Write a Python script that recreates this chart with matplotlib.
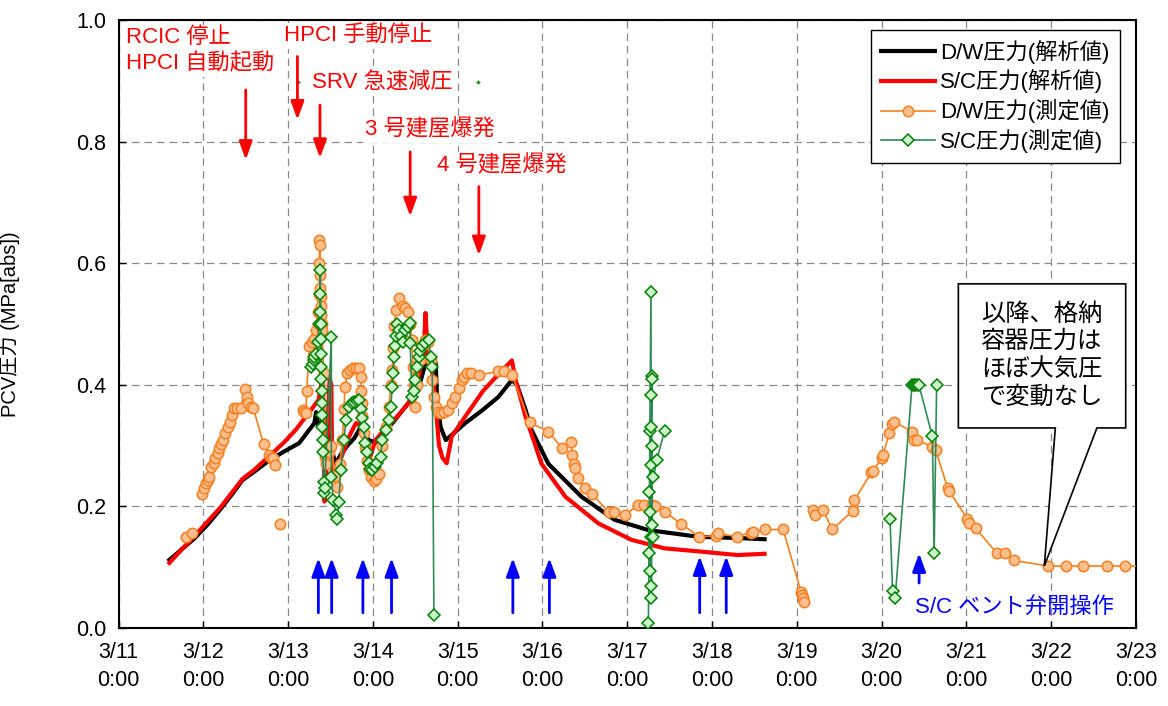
import numpy as np
import matplotlib
matplotlib.use("Agg")
import matplotlib.pyplot as plt
from matplotlib.patches import Polygon

plt.rcParams['font.family'] = ['Liberation Sans', 'Noto Sans CJK JP', 'DejaVu Sans']

nan = np.nan

# x in days from 3/11 0:00
day_ticks = list(range(13))
day_labels = ['3/11', '3/12', '3/13', '3/14', '3/15', '3/16', '3/17',
              '3/18', '3/19', '3/20', '3/21', '3/22', '3/23']

# D/W pressure (analysis)
dw_calc_t = [0.60, 0.75, 0.90, 1.05, 1.20, 1.35, 1.46, 1.60, 1.78, 1.95, 2.13,
             2.25, 2.31, 2.33, 2.36, 2.40, 2.45, 2.50, 2.56, 2.62, 2.70, 2.78,
             2.86, 2.95, 3.03, 3.10, 3.23, 3.42, 3.55, 3.62, 3.74, 3.76, 3.80,
             3.86, 3.91, 4.09, 4.29, 4.48, 4.64, 4.70, 4.80, 4.87, 5.07, 5.46,
             5.85, 6.25, 6.84, 7.30, 7.62]
dw_calc_p = [0.112, 0.130, 0.148, 0.170, 0.195, 0.222, 0.243, 0.257, 0.276,
             0.290, 0.304, 0.326, 0.337, 0.355, 0.330, 0.340, 0.330, 0.300,
             0.270, 0.285, 0.300, 0.312, 0.331, 0.309, 0.305, 0.320, 0.337,
             0.370, 0.400, 0.435, 0.436, 0.370, 0.330, 0.309, 0.315, 0.337,
             0.358, 0.380, 0.408, 0.400, 0.359, 0.326, 0.270, 0.216, 0.178,
             0.161, 0.150, 0.148, 0.146]

# S/C pressure (analysis)
sc_calc_t = [0.60, 0.75, 0.90, 1.05, 1.20, 1.35, 1.46, 1.60, 1.78, 1.95, 2.09,
             2.25, 2.33, 2.36, 2.39, 2.41, 2.42, 2.43, 2.45, 2.47, 2.49, 2.51,
             2.52, 2.55, 2.60, 2.66, 2.72, 2.80, 2.85, 2.91, 2.97, 3.03, 3.10,
             3.20, 3.30, 3.42, 3.50, 3.55, 3.60, 3.62, 3.64, 3.66, 3.68, 3.72,
             3.75, 3.78, 3.82, 3.87, 3.93, 4.09, 4.30, 4.50, 4.64, 4.68, 4.80,
             4.99, 5.27, 5.66, 6.05, 6.44, 6.84, 7.30, 7.62]
sc_calc_p = [0.107, 0.130, 0.152, 0.175, 0.198, 0.225, 0.245, 0.260, 0.283,
             0.305, 0.326, 0.355, 0.370, 0.375, 0.400, 0.425, 0.300, 0.208,
             0.250, 0.350, 0.410, 0.400, 0.260, 0.245, 0.270, 0.293, 0.315,
             0.337, 0.335, 0.304, 0.282, 0.309, 0.320, 0.335, 0.350, 0.370,
             0.390, 0.420, 0.450, 0.518, 0.470, 0.430, 0.440, 0.400, 0.350,
             0.300, 0.280, 0.271, 0.315, 0.348, 0.390, 0.420, 0.440, 0.410,
             0.348, 0.270, 0.216, 0.172, 0.145, 0.131, 0.126, 0.120, 0.122]

# D/W pressure (measured)
dw_meas_t = [0.80, 0.87, nan, 0.98, 1.01, 1.03, 1.05, 1.07, 1.09, 1.12, 1.14,
             1.17, 1.19, 1.21, 1.23, 1.26, 1.29, 1.31, 1.34, 1.36, 1.40, 1.44,
             1.49, 1.51, 1.53, 1.56, 1.59, 1.71, 1.78, 1.80, 1.82, 1.84, nan,
             1.91, nan,
             2.17, 2.19, 2.21, 2.22, 2.25, 2.28, 2.31, 2.33, 2.35, 2.36, 2.365,
             2.37, 2.37, 2.375, 2.38, 2.38, 2.385, 2.39, 2.39, 2.395, 2.40,
             2.42, 2.44, 2.45, 2.48, 2.51, 2.55, 2.58, 2.61, 2.64, 2.66, 2.67,
             2.70, 2.73, 2.76, 2.80, 2.84, 2.86, 2.86, 2.87, 2.87, 2.89, 2.91,
             2.93, 2.95, 2.98, 3.01, 3.04, 3.07, 3.11, 3.15, 3.19, 3.21, 3.23,
             3.24, 3.25, 3.27, 3.31, 3.35, 3.38, 3.42, 3.44, 3.46, 3.47, 3.48,
             3.50, 3.52, 3.55, 3.58, 3.62, 3.65, 3.68, 3.70, 3.72, 3.74, 3.77,
             3.80, 3.84, 3.89, 3.93, 3.97, 4.01, 4.05, 4.08, 4.11, 4.16, 4.25,
             4.48, 4.55, 4.64, 4.85, 5.07, 5.23, 5.34, 5.35, 5.37, 5.38, 5.42,
             5.50, 5.58, 5.78, 5.84, 5.97, 6.13, 6.20, 6.29, 6.33, 6.44, 6.64,
             6.85, 7.05, 7.07, 7.29, 7.46, 7.48, 7.62, 7.84, 8.05, 8.06, 8.07,
             8.08, nan,
             8.19, 8.22, 8.31, 8.42, 8.66, 8.68, 8.88, 8.90, 9.00, 9.02, 9.09,
             9.12, 9.15, 9.36, 9.38, 9.42, 9.60, 9.64, 9.78, 9.80, 10.01, 10.03,
             10.11, 10.36, 10.46, 10.56, 10.96, 11.18, 11.38, 11.66, 11.87, 12.2]
dw_meas_p = [0.150, 0.156, nan, 0.221, 0.230, 0.238, 0.244, 0.249, 0.264,
             0.272, 0.279, 0.287, 0.296, 0.303, 0.309, 0.320, 0.331, 0.339,
             0.350, 0.361, 0.362, 0.361, 0.393, 0.380, 0.370, 0.363, 0.361,
             0.303, 0.285, 0.280, 0.279, 0.268, nan,
             0.171, nan,
             0.359, 0.356, 0.353, 0.390, 0.463, 0.470, 0.475, 0.490, 0.520,
             0.500, 0.550, 0.600, 0.638, 0.630, 0.580, 0.560, 0.545, 0.530,
             0.515, 0.500, 0.490, 0.420, 0.282, 0.270, 0.290, 0.300, 0.250,
             0.232, 0.270, 0.309, 0.360, 0.397, 0.419, 0.425, 0.427, 0.428,
             0.427, 0.413, 0.390, 0.370, 0.348, 0.320, 0.298, 0.275, 0.260,
             0.248, 0.241, 0.245, 0.254, 0.300, 0.331, 0.364, 0.400, 0.424,
             0.460, 0.496, 0.523, 0.542, 0.530, 0.526, 0.520, 0.500, 0.474,
             0.430, 0.400, 0.364, 0.400, 0.440, 0.463, 0.474, 0.470, 0.440,
             0.408, 0.380, 0.364, 0.355, 0.353, 0.355, 0.359, 0.370, 0.380,
             0.395, 0.408, 0.413, 0.419, 0.420, 0.416, 0.422, 0.423, 0.416,
             0.338, 0.323, 0.296, 0.306, 0.285, 0.270, 0.263, 0.246, 0.230,
             0.221, 0.191, 0.190, 0.186, 0.202, 0.203, 0.202, 0.200, 0.191,
             0.171, 0.150, 0.152, 0.156, 0.150, 0.157, 0.158, 0.162, 0.162,
             0.060, 0.055, 0.050, 0.043, nan,
             0.194, 0.186, 0.194, 0.162, 0.193, 0.210, 0.256, 0.258, 0.279,
             0.285, 0.321, 0.336, 0.339, 0.323, 0.309, 0.309, 0.298, 0.292,
             0.230, 0.225, 0.180, 0.172, 0.164, 0.123, 0.123, 0.111, 0.102,
             0.102, 0.102, 0.102, 0.102, 0.102]

# S/C pressure (measured)
sc_meas_t = [2.27, 2.29, 2.30, 2.31, 2.33, 2.35, 2.37, 2.38, 2.38, 2.38, 2.385,
             2.385, 2.39, 2.39, 2.39, 2.395, 2.40, 2.40, 2.40, 2.41, 2.41, 2.42,
             2.42, 2.43, 2.51, 2.51, 2.53, 2.57, 2.58, 2.60, 2.62, 2.66, 2.68,
             2.72, 2.75, 2.78, 2.81, 2.84, 2.86, 2.87, 2.89, 2.91, 2.93, 2.95,
             2.97, 2.99, 3.02, 3.05, 3.09, 3.11, 3.15, 3.19, 3.21, 3.23, 3.24,
             3.25, 3.26, 3.27, 3.28, 3.31, 3.33, 3.35, 3.38, 3.41, 3.44, 3.44,
             3.46, 3.48, 3.50, 3.52, 3.54, 3.56, 3.58, 3.62, 3.66, 3.68, 3.70,
             3.72, nan,
             6.25, 6.28, 6.285, 6.29, 6.26, 6.29, 6.27, 6.28, 6.28, 6.27, 6.28,
             6.29, 6.27, 6.28, 6.29, 6.28, 6.30, 6.26, 6.31, 6.35, 6.44, nan,
             9.10, 9.13, 9.16, 9.36, 9.38, 9.40, 9.42, 9.44, 9.60, 9.62, 9.65]
sc_meas_p = [0.430, 0.435, 0.440, 0.445, 0.450, 0.470, 0.500, 0.520, 0.589,
             0.550, 0.500, 0.475, 0.450, 0.430, 0.410, 0.390, 0.370, 0.350,
             0.330, 0.310, 0.290, 0.240, 0.222, 0.230, 0.478, 0.249, 0.210,
             0.186, 0.180, 0.208, 0.260, 0.309, 0.342, 0.364, 0.370, 0.372,
             0.374, 0.375, 0.360, 0.345, 0.331, 0.304, 0.290, 0.271, 0.262,
             0.260, 0.265, 0.271, 0.282, 0.309, 0.326, 0.342, 0.364, 0.397,
             0.420, 0.446, 0.464, 0.480, 0.500, 0.490, 0.480, 0.470, 0.490,
             0.495, 0.501, 0.468, 0.380, 0.390, 0.408, 0.430, 0.446, 0.455,
             0.463, 0.468, 0.474, 0.446, 0.430, 0.021, nan,
             0.009, 0.552, 0.069, 0.414, 0.124, 0.410, 0.094, 0.384, 0.049,
             0.324, 0.150, 0.300, 0.190, 0.330, 0.169, 0.268, 0.149, 0.224,
             0.248, 0.277, 0.324, nan,
             0.179, 0.061, 0.049, 0.400, 0.400, 0.400, 0.400, 0.400, 0.315,
             0.124, 0.400]

# stray S/C readings near 0.9
sc_stray_t = [2.12, 4.24]
sc_stray_p = [0.898, 0.898]

# events (red): label, label x, label y, arrow x, arrow top, arrow tip
event_labels = ['RCIC 停止\nHPCI 自動起動', 'HPCI 手動停止', 'SRV 急速減圧',
                '3 号建屋爆発', '4 号建屋爆発']
event_text_x = [0.09, 1.95, 2.285, 2.91, 3.755]
event_text_y = [0.949, 0.974, 0.897, 0.819, 0.760]
event_arrow_x = [1.50, 2.11, 2.376, 3.44, 4.25]
event_arrow_top = [0.885, 0.940, 0.860, 0.783, 0.726]
event_arrow_tip = [0.770, 0.836, 0.773, 0.677, 0.613]

# S/C vent valve operations (blue)
vent_x = [2.357, 2.514, 2.882, 3.22, 4.651, 5.082, 6.855, 7.168, 9.443]
vent_bottom = [0.025, 0.025, 0.025, 0.025, 0.025, 0.025, 0.025, 0.025, 0.074]
vent_tip = [0.115, 0.115, 0.115, 0.115, 0.115, 0.115, 0.118, 0.118, 0.123]

fig = plt.figure(figsize=(11.68, 7.06), dpi=100)
ax = fig.add_axes([0.1015, 0.1105, 0.871, 0.8612])

ax.plot(dw_calc_t, dw_calc_p, color='black', lw=3, label='D/W圧力(解析値)', zorder=2)
ax.plot(sc_calc_t, sc_calc_p, color='#ff0000', lw=3, label='S/C圧力(解析値)', zorder=2.1)
ax.plot(dw_meas_t, dw_meas_p, color='#f77f1e', lw=1.2, marker='o', ms=7.5,
        mfc='#fdbf8e', mec='#f77f1e', mew=1.1, label='D/W圧力(測定値)', zorder=3)
ax.plot(sc_meas_t, sc_meas_p, color='#2e8b57', lw=1.2, marker='D', ms=6.5,
        mfc='#ccf5cc', mec='#008000', mew=1.1, label='S/C圧力(測定値)', zorder=3.1)
ax.plot(sc_stray_t, sc_stray_p, ls='none', marker='+', ms=3, color='#008000', zorder=3)

ax.set_xlim(0, 12)
ax.set_ylim(0, 1.0)
ax.set_xticks(day_ticks)
ax.set_xticklabels([d + '\n0:00' for d in day_labels], linespacing=1.45)
ax.set_yticks([0, 0.2, 0.4, 0.6, 0.8, 1.0])
ax.set_yticklabels(['0.0', '0.2', '0.4', '0.6', '0.8', '1.0'])
ax.tick_params(axis='both', direction='in', length=5, labelsize=15.5, width=1)
ax.tick_params(axis='x', pad=10)
ax.tick_params(axis='y', pad=9)
ax.grid(True, color='#888888', lw=0.9, ls=(0, (6, 4)))
ax.set_axisbelow(True)
for s in ax.spines.values():
    s.set_linewidth(1.5)
ax.set_ylabel('PCV圧力 (MPa[abs])', fontsize=14.5)
ax.yaxis.set_label_coords(-0.097, 0.5)

for lab, tx, ty, axx, atop, atip in zip(event_labels, event_text_x, event_text_y,
                                        event_arrow_x, event_arrow_top, event_arrow_tip):
    ax.text(tx, ty, lab, color='#ff0000', fontsize=16, ha='left', va='center',
            linespacing=1.3, zorder=4,
            bbox=dict(fc='white', ec='none', pad=2))
    ax.annotate('', xy=(axx, atip), xytext=(axx, atop),
                arrowprops=dict(arrowstyle='-|>,head_length=0.55,head_width=0.2',
                                color='#ff0000', lw=2, shrinkA=0, shrinkB=0,
                                mutation_scale=20), zorder=4)

for vx, vb, vt in zip(vent_x, vent_bottom, vent_tip):
    ax.annotate('', xy=(vx, vt), xytext=(vx, vb),
                arrowprops=dict(arrowstyle='-|>,head_length=0.55,head_width=0.2',
                                color='#0000ff', lw=2, shrinkA=0, shrinkB=0,
                                mutation_scale=20), zorder=4)
ax.text(9.4, 0.033, 'S/C ベント弁開操作', color='#0000ff', fontsize=16,
        ha='left', va='center', zorder=4)

# callout box
callout = Polygon([(9.906, 0.566), (11.88, 0.566), (11.88, 0.329), (11.54, 0.329),
                   (10.92, 0.102), (11.05, 0.329), (9.906, 0.329)],
                  closed=True, fc='white', ec='black', lw=1.2, zorder=5)
ax.add_patch(callout)
ax.text(10.89, 0.448, '以降、格納\n容器圧力は\nほぼ大気圧\nで変動なし', fontsize=17.5,
        ha='center', va='center', linespacing=1.28, zorder=6)

leg = ax.legend(loc='upper right', bbox_to_anchor=(0.984, 0.984), fontsize=16,
                frameon=True, fancybox=False, edgecolor='black', framealpha=1,
                handlelength=2.4, handletextpad=0.25, labelspacing=0.26,
                borderpad=0.45, borderaxespad=0)
leg.get_frame().set_linewidth(1.0)
leg.set_zorder(10)

fig.savefig('out.png', dpi=100)
